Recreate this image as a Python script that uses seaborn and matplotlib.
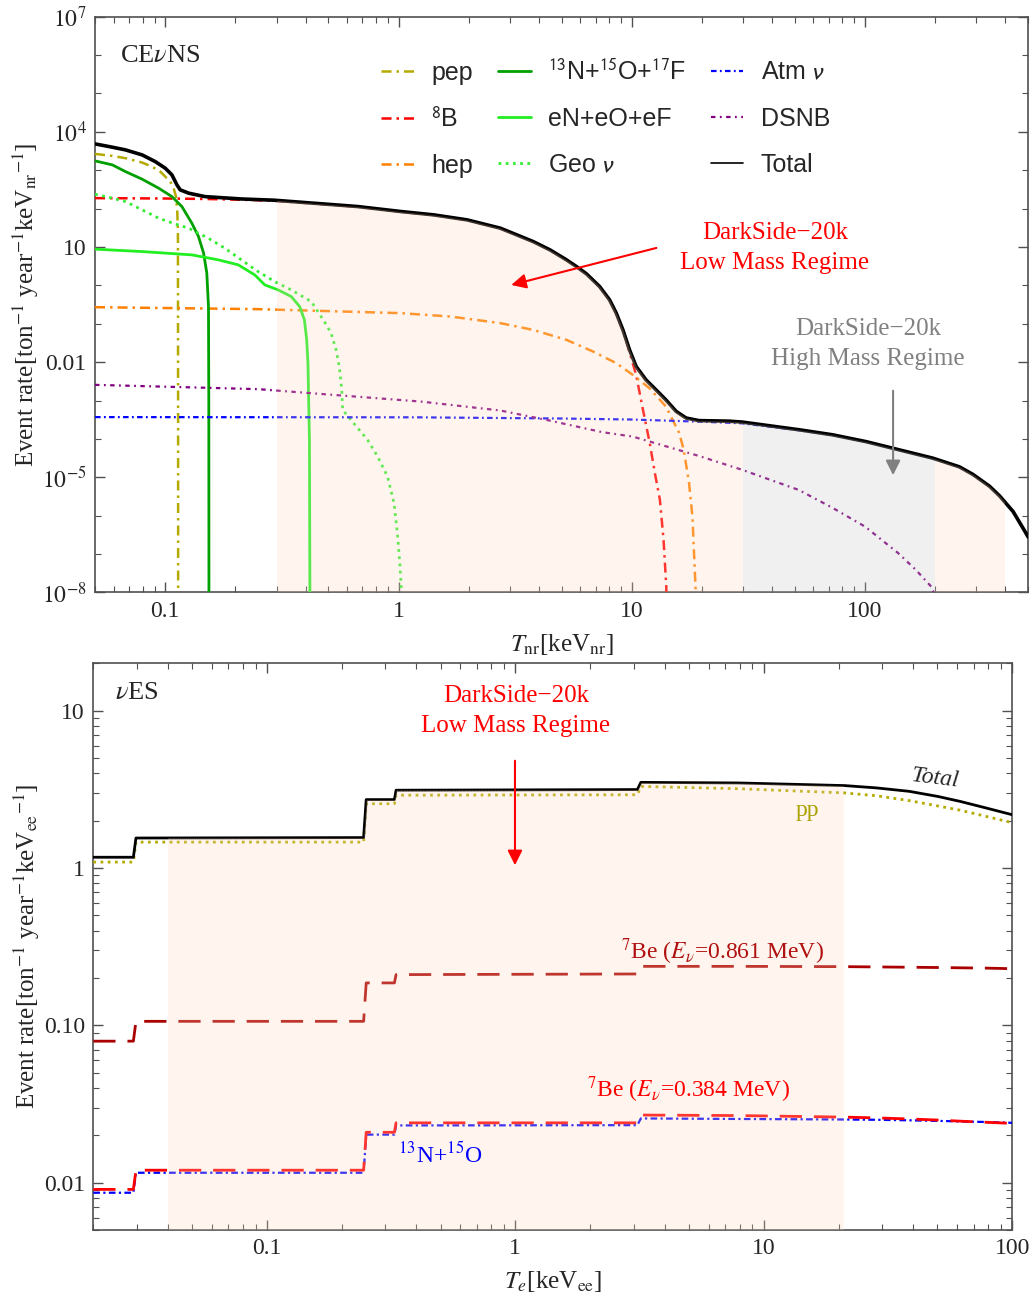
import matplotlib
matplotlib.use("Agg")
import matplotlib.pyplot as plt
from matplotlib.patches import Polygon
from matplotlib.lines import Line2D
from matplotlib.font_manager import FontProperties
from matplotlib.ticker import FixedLocator, FixedFormatter, LogLocator, NullFormatter
import numpy as np
import seaborn as sns

# ---------------- CEvNS panel data ----------------
total_x = [0.05, 0.0593, 0.0675, 0.0796, 0.0906, 0.1, 0.1068, 0.1122, 0.1159, 0.126, 0.148,
           0.212, 0.294, 0.668, 1.02, 1.417, 1.967, 2.73, 3.21, 3.78, 4.46, 5.25, 5.79, 6.39,
           7.28, 8.03, 8.58, 9.16, 9.78, 10.44, 11.5, 12.7, 14.0, 15.5, 17.1, 19.4, 26.1, 29.7,
           52.2, 72.6, 101, 140, 195, 254, 290, 342, 377, 431, 483, 500]
total_y = [4840, 3970, 3380, 2500, 1675, 1127, 755, 414, 307, 252, 205,
           178, 165, 113, 84, 68.5, 50.8, 30.9, 20.7, 13.8, 8.4, 4.61, 3.09, 2.0,
           0.93, 0.419, 0.189, 0.0693, 0.0209, 7.7e-3, 3.46e-3, 1.9e-3, 1.04e-3, 5.2e-4, 3.5e-4,
           3.0e-4, 2.9e-4, 2.75e-4,
           1.73e-4, 1.28e-4, 8.5e-5, 5.2e-5, 3.16e-5, 1.87e-5, 1.19e-5, 5.83e-6, 3.3e-6, 1.29e-6,
           4.05e-7, 2.8e-7]

pep_x = [0.05, 0.0593, 0.0675, 0.0796, 0.0877, 0.0952, 0.1, 0.105, 0.1086, 0.1112, 0.1125,
         0.1133, 0.1135, 0.1136]
pep_y = [2655, 2355, 2055, 1578, 1240, 920, 680, 505, 340, 205, 92, 27.9, 1e-3, 1e-10]

b8_x = [0.05, 0.1, 0.148, 0.212, 0.294, 0.668, 1.02, 1.417, 1.967, 2.73, 3.21, 3.78, 4.46,
        5.25, 5.79, 6.39, 7.28, 8.03, 8.58, 9.16, 9.47, 10.45, 11.17, 11.94, 12.56, 13.2,
        13.68, 14.06, 14.15]
b8_y = [187, 183, 178, 170, 160, 112, 83, 68, 50.5, 30.7, 20.6, 13.7, 8.35,
        4.58, 3.07, 1.98, 0.92, 0.415, 0.186, 0.066, 0.036, 4.5e-3, 5.7e-4, 7.8e-5, 1.29e-5,
        2.6e-6, 2.4e-7, 1.4e-8, 1e-10]

hep_x = [0.05, 0.25, 1.02, 1.67, 2.73, 3.78, 5.25, 6.82, 8.58, 10.1, 11.9, 14.0, 15.96,
         16.7, 17.6, 18.2, 18.8, 18.9]
hep_y = [0.270, 0.240, 0.189, 0.154, 0.104, 0.069, 0.038, 0.0189, 9.4e-3, 4.67e-3, 2.1e-3,
         7.0e-4, 1.44e-4, 5.2e-5, 7.1e-6, 9.5e-7, 1e-8, 1e-10]

cno_x = [0.05, 0.0593, 0.0675, 0.0796, 0.0937, 0.1068, 0.1178, 0.130, 0.1388, 0.146, 0.1507,
         0.1532, 0.1537, 0.154]
cno_y = [1745, 1375, 920, 583, 340, 205, 113, 41.7, 18.7, 6.9, 2.08, 0.28, 1e-3, 1e-10]

en_x = [0.05, 0.0796, 0.130, 0.169, 0.2056, 0.242, 0.267, 0.305, 0.347, 0.377, 0.395, 0.404,
        0.409, 0.415, 0.417, 0.418]
en_y = [8.77, 7.59, 6.22, 4.61, 3.42, 1.87, 1.03, 0.76, 0.51, 0.28, 0.126, 0.038,
        9.4e-3, 9.6e-5, 1e-8, 1e-10]

geo_x = [0.05, 0.0593, 0.0675, 0.0796, 0.0937, 0.110, 0.1259, 0.153, 0.180, 0.212, 0.25,
         0.294, 0.347, 0.423, 0.481, 0.514, 0.540, 0.557, 0.571, 0.576, 0.626, 0.736, 0.813,
         0.897, 0.957, 0.989, 1.015, 1.03, 1.035]
geo_y = [237, 187, 152, 92.5, 56.2, 40, 30.9, 16.9, 9.3, 4.61, 2.29,
         1.26, 0.76, 0.378, 0.114, 0.057, 0.0209, 7.7e-3, 1.9e-3, 5.7e-4, 3.1e-4, 9.5e-5, 3.5e-5,
         1.05e-5, 2.1e-6, 3.5e-7, 4.8e-8, 1e-8, 1e-10]

atm_x = [0.05, 1.2, 5.0, 10.0, 20.0, 29.7, 52.2, 72.6, 101, 140, 195, 254, 290, 342, 377,
         431, 483, 500]
atm_y = [3.7e-4, 3.65e-4, 3.4e-4, 3.2e-4, 2.8e-4, 2.55e-4, 1.68e-4, 1.26e-4, 8.45e-5, 5.2e-5,
         3.16e-5, 1.83e-5, 1.17e-5, 5.8e-6, 3.3e-6, 1.29e-6, 4.0e-7, 2.75e-7]

dsnb_x = [0.05, 0.25, 1.245, 2.73, 4.45, 7.47, 10.1, 19.4, 29.7, 51.9, 72.6, 100, 138.7, 165,
          192, 200, 203]
dsnb_y = [2.56e-3, 1.98e-3, 9.4e-4, 5.5e-4, 3.0e-4, 1.5e-4, 1.15e-4, 3.6e-5, 1.57e-5, 4.7e-6,
          1.6e-6, 5.2e-7, 1.06e-7, 3.9e-8, 1.43e-8, 8e-9, 1e-10]

# ---------------- vES panel data ----------------
es_x = [0.02, 0.0290, 0.0297, 0.245, 0.251, 0.326, 0.331, 3.10, 3.20, 7.9, 21.1, 28.3, 38.5,
        50.1, 61.7, 78.2, 100]
es_total = [1.17, 1.17, 1.55, 1.56, 2.72, 2.72, 3.12, 3.15, 3.50, 3.47, 3.34, 3.23, 3.07,
            2.85, 2.65, 2.41, 2.18]
es_pp = [1.09, 1.09, 1.46, 1.46, 2.56, 2.56, 2.90, 2.92, 3.30, 3.19, 3.0, 2.88, 2.68,
         2.48, 2.33, 2.13, 1.94]
es_be861 = [0.0793, 0.0793, 0.106, 0.106, 0.186, 0.186, 0.210, 0.212, 0.237, 0.237, 0.236,
            0.235, 0.234, 0.233, 0.232, 0.231, 0.229]
es_be384 = [0.00906, 0.00906, 0.0120, 0.0120, 0.0209, 0.0209, 0.0240, 0.0240, 0.0269, 0.0267,
            0.0261, 0.0258, 0.0254, 0.0250, 0.0246, 0.0242, 0.0238]
es_cno = [0.00863, 0.00863, 0.01156, 0.01156, 0.0202, 0.0202, 0.0231, 0.0232, 0.0256, 0.0254,
          0.0252, 0.0251, 0.0249, 0.0247, 0.0245, 0.0243, 0.0240]

sns.set_theme(style="ticks")
plt.rcParams["font.family"] = ["Liberation Serif", "DejaVu Serif"]
plt.rcParams["mathtext.fontset"] = "stix"

FRAME = "#505050"
PEACH = "#FFD9BF"
GRAY = "#C4C4C4"
OLIVE = "#B4AA00"


def draw(ax, x, y, color, lw, ls, label=None, z=3):
    sns.lineplot(x=x, y=y, ax=ax, color=color, lw=lw, linestyle=ls, estimator=None,
                 sort=False, label=label, legend=False, zorder=z)
    return ax.lines[-1]


def shade(ax, x, y, x0, x1, color, ylo, yhi):
    # fill under the total curve, kept between x0 and x1 and inside the frame
    coll = ax.fill_between(x, ylo, y, color=color, alpha=0.25, lw=0, zorder=5)
    clip = Polygon([(x0, ylo), (x1, ylo), (x1, yhi), (x0, yhi)], closed=True,
                   transform=ax.transData)
    coll.set_clip_path(clip)


def style_axes(ax):
    for s in ax.spines.values():
        s.set_color(FRAME)
        s.set_linewidth(1.2)
    ax.tick_params(which="both", direction="in", top=True, right=True, color=FRAME,
                   labelsize=17, pad=6)
    ax.tick_params(which="major", length=7, width=1.0)
    ax.tick_params(which="minor", length=4, width=0.8)
    ax.xaxis.set_major_locator(FixedLocator([0.1, 1, 10, 100]))
    ax.xaxis.set_major_formatter(FixedFormatter(["0.1", "1", "10", "100"]))
    ax.xaxis.set_minor_locator(LogLocator(base=10, subs=np.arange(2, 10), numticks=20))
    ax.xaxis.set_minor_formatter(NullFormatter())


fig = plt.figure(figsize=(10.32, 12.99), dpi=100)
ax1 = fig.add_axes([0.0921, 0.5439, 0.9041, 0.4433])
ax2 = fig.add_axes([0.0904, 0.0531, 0.8904, 0.4363])

# ---------------- top: CEvNS ----------------
ax1.set_xscale("log")
ax1.set_yscale("log")
h_pep = draw(ax1, pep_x, pep_y, OLIVE, 1.8, (0, (4, 2, 1, 2)), "pep")
h_b8 = draw(ax1, b8_x, b8_y, "#FF0000", 1.8, (0, (4, 2, 1, 2)), r"$^{8}$B")
h_hep = draw(ax1, hep_x, hep_y, "#FF8000", 1.8, (0, (4, 2, 1, 2)), "hep")
h_cno = draw(ax1, cno_x, cno_y, "#00A000", 2.0, "-", r"$^{13}$N+$^{15}$O+$^{17}$F")
h_en = draw(ax1, en_x, en_y, "#22EE22", 2.0, "-", "eN+eO+eF")
h_geo = draw(ax1, geo_x, geo_y, "#33EE33", 2.0, (0, (1, 1.6)), r"Geo $\nu$")
h_atm = draw(ax1, atm_x, atm_y, "#0000FF", 1.6, (0, (2.5, 1.5, 0.8, 1.5)), r"Atm $\nu$")
h_dsnb = draw(ax1, dsnb_x, dsnb_y, "#800080", 1.6, (0, (2, 2, 0.8, 2)), "DSNB")
draw(ax1, total_x, total_y, "black", 2.6, "-", z=4)
h_tot = Line2D([], [], color="black", lw=1.2, label="Total")

shade(ax1, total_x, total_y, 0.3, 30, PEACH, 1e-8, 1e7)
shade(ax1, total_x, total_y, 30, 200, GRAY, 1e-8, 1e7)
shade(ax1, total_x, total_y, 200, 400, PEACH, 1e-8, 1e7)

ax1.set_xlim(0.05, 500)
ax1.set_ylim(1e-8, 1e7)
style_axes(ax1)
ax1.yaxis.set_major_locator(FixedLocator([1e-8, 1e-5, 1e-2, 10, 1e4, 1e7]))
ax1.yaxis.set_major_formatter(FixedFormatter([r"$10^{-8}$", r"$10^{-5}$", "0.01", "10",
                                              r"$10^{4}$", r"$10^{7}$"]))
ax1.yaxis.set_minor_locator(FixedLocator([10.0 ** k for k in range(-8, 8)]))
ax1.yaxis.set_minor_formatter(NullFormatter())
ax1.set_xlabel(r"$T_{\rm nr}$[keV$_{\rm nr}$]", fontsize=18, labelpad=7)
ax1.set_ylabel(r"Event rate[ton$^{-1}$ year$^{-1}$keV$_{\rm nr}$$^{-1}$]", fontsize=18, labelpad=1)

leg_font = FontProperties(family="Liberation Sans", size=18, math_fontfamily="stixsans")
ax1.legend(handles=[h_pep, h_b8, h_hep, h_cno, h_en, h_geo, h_atm, h_dsnb, h_tot],
           ncol=3, loc="upper left", bbox_to_anchor=(0.307, 0.926), frameon=False,
           prop=leg_font, handlelength=1.3, handletextpad=0.7, columnspacing=1.0,
           labelspacing=0.89, borderpad=0, borderaxespad=0)

ax1.text(0.0268, 0.932, r"CE$\nu$NS", transform=ax1.transAxes, fontsize=19,
         ha="left", va="center", zorder=8)
ax1.text(0.7288, 0.598, "DarkSide\u221220k\nLow Mass Regime", transform=ax1.transAxes,
         fontsize=18, color="#FF0000", ha="center", va="center", linespacing=1.5, zorder=8)
ax1.annotate("", xy=(0.4432, 0.5328), xytext=(0.6045, 0.5995), xycoords="axes fraction",
             arrowprops=dict(arrowstyle="-|>", color="#FF0000", lw=1.5, mutation_scale=22),
             zorder=8)
ax1.text(0.8285, 0.4316, "DarkSide\u221220k\nHigh Mass Regime", transform=ax1.transAxes,
         fontsize=18, color="#808080", ha="center", va="center", linespacing=1.5, zorder=8)
ax1.annotate("", xy=(0.8553, 0.1989), xytext=(0.8553, 0.3552), xycoords="axes fraction",
             arrowprops=dict(arrowstyle="-|>", color="#808080", lw=1.5, mutation_scale=22),
             zorder=8)

# ---------------- bottom: vES ----------------
ax2.set_xscale("log")
ax2.set_yscale("log")
draw(ax2, es_x, es_be861, "#AA0000", 2.0, (0, (8, 4.3)))
draw(ax2, es_x, es_cno, "#0000FF", 1.6, (0, (3, 1.5, 1, 1.5)))
draw(ax2, es_x, es_be384, "#FF0000", 2.0, (0, (8, 4.3)))
draw(ax2, es_x, es_pp, OLIVE, 2.0, (0, (1, 1.6)))
draw(ax2, es_x, es_total, "black", 2.0, "-", z=4)

shade(ax2, es_x, es_total, 0.04, 21, PEACH, 0.005, 20)

ax2.set_xlim(0.02, 100)
ax2.set_ylim(0.005, 20)
style_axes(ax2)
ax2.yaxis.set_major_locator(FixedLocator([0.01, 0.1, 1, 10]))
ax2.yaxis.set_major_formatter(FixedFormatter(["0.01", "0.10", "1", "10"]))
ax2.yaxis.set_minor_locator(LogLocator(base=10, subs=np.arange(2, 10), numticks=20))
ax2.yaxis.set_minor_formatter(NullFormatter())
ax2.set_xlabel(r"$T_e$[keV$_{\rm ee}$]", fontsize=18, labelpad=7)
ax2.set_ylabel(r"Event rate[ton$^{-1}$ year$^{-1}$keV$_{\rm ee}$$^{-1}$]", fontsize=18, labelpad=1)

ax2.text(0.0236, 0.9476, r"$\nu$ES", transform=ax2.transAxes, fontsize=19,
         ha="left", va="center", zorder=8)
ax2.text(0.46, 0.9158, "DarkSide\u221220k\nLow Mass Regime", transform=ax2.transAxes,
         fontsize=18, color="#FF0000", ha="center", va="center", linespacing=1.5, zorder=8)
ax2.annotate("", xy=(0.4589, 0.6388), xytext=(0.4589, 0.8329), xycoords="axes fraction",
             arrowprops=dict(arrowstyle="-|>", color="#FF0000", lw=1.5, mutation_scale=22),
             zorder=8)
ax2.text(0.9159, 0.7976, "Total", transform=ax2.transAxes, fontsize=17, style="italic",
         rotation=-7, ha="center", va="center", zorder=8)
ax2.text(0.7767, 0.7411, "pp", transform=ax2.transAxes, fontsize=17, color="#AAA000",
         ha="center", va="center", zorder=8)
ax2.text(0.6852, 0.4911, r"$^{7}$Be ($E_\nu$=0.861 MeV)", transform=ax2.transAxes,
         fontsize=17, color="#B01010", ha="center", va="center", zorder=8)
ax2.text(0.6472, 0.2470, r"$^{7}$Be ($E_\nu$=0.384 MeV)", transform=ax2.transAxes,
         fontsize=17, color="#FF0000", ha="center", va="center", zorder=8)
ax2.text(0.3773, 0.1323, r"$^{13}$N+$^{15}$O", transform=ax2.transAxes,
         fontsize=17, color="#0000FF", ha="center", va="center", zorder=8)

fig.savefig("out.png", dpi=100)
